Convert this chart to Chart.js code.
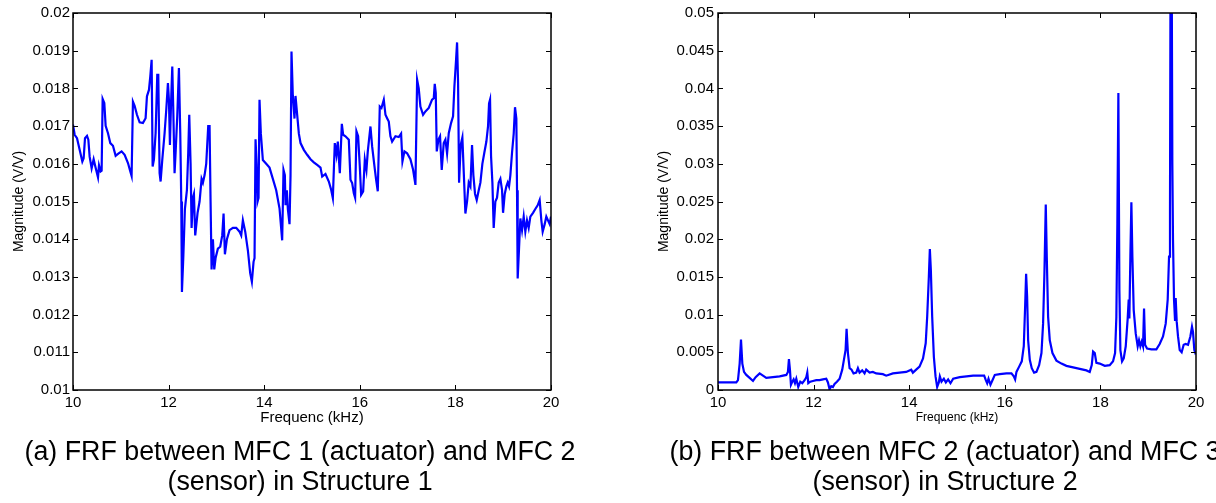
<!DOCTYPE html>
<html>
<head>
<meta charset="utf-8">
<script src="https://cdn.jsdelivr.net/npm/chart.js@4"></script>
<style>
  html, body { margin: 0; padding: 0; background: #fff; }
  body { width: 1216px; height: 503px; position: relative; overflow: hidden; font-family: 'Liberation Sans', Arial, sans-serif; }
  canvas { position: absolute; top: 0; }
  #chart-a { left: 0; }
  #chart-b { left: 608px; }
  .caption { position: absolute; top: 436px; width: 600px; text-align: center; font-size: 26.8px; line-height: 30px; color: #000; white-space: nowrap; }
  #cap-a { left: 0; }
  #cap-b { left: 645px; }
</style>
</head>
<body>
<canvas id="chart-a" width="608" height="440"></canvas>
<canvas id="chart-b" width="608" height="440"></canvas>
<div class="caption" id="cap-a">(a) FRF between MFC 1 (actuator) and MFC 2<br>(sensor) in Structure 1</div>
<div class="caption" id="cap-b">(b) FRF between MFC 2 (actuator) and MFC 3<br>(sensor) in Structure 2</div>
<script>
// Structure 1: MFC 1 -> MFC 2
const freqA = [
    10.000, 10.035, 10.084, 10.139, 10.195, 10.223, 10.251, 10.293, 10.321, 10.348,
    10.390, 10.432, 10.467, 10.523, 10.544, 10.578, 10.599, 10.620, 10.655, 10.683,
    10.732, 10.780, 10.836, 10.892, 10.948, 11.017, 11.080, 11.150, 11.199, 11.226,
    11.254, 11.289, 11.338, 11.394, 11.463, 11.519, 11.547, 11.589, 11.617, 11.645,
    11.666, 11.693, 11.728, 11.763, 11.784, 11.812, 11.833, 11.868, 11.916, 11.951,
    11.986, 12.007, 12.028, 12.049, 12.077, 12.098, 12.125, 12.146, 12.181, 12.216,
    12.244, 12.265, 12.279, 12.307, 12.341, 12.383, 12.411, 12.432, 12.460, 12.481,
    12.509, 12.530, 12.557, 12.606, 12.648, 12.690, 12.718, 12.753, 12.787, 12.829,
    12.857, 12.878, 12.899, 12.927, 12.955, 12.983, 13.031, 13.080, 13.122, 13.150,
    13.178, 13.220, 13.275, 13.345, 13.415, 13.484, 13.519, 13.554, 13.603, 13.659,
    13.707, 13.742, 13.777, 13.798, 13.819, 13.840, 13.861, 13.882, 13.902, 13.930,
    13.972, 14.042, 14.111, 14.181, 14.251, 14.321, 14.376, 14.404, 14.432, 14.446,
    14.474, 14.495, 14.530, 14.551, 14.571, 14.599, 14.634, 14.655, 14.690, 14.725,
    14.760, 14.829, 14.899, 14.969, 15.038, 15.108, 15.178, 15.213, 15.282, 15.352,
    15.401, 15.436, 15.477, 15.512, 15.540, 15.582, 15.624, 15.652, 15.700, 15.770,
    15.805, 15.840, 15.875, 15.902, 15.930, 15.965, 16.000, 16.028, 16.070, 16.105,
    16.139, 16.167, 16.223, 16.258, 16.307, 16.341, 16.376, 16.418, 16.453, 16.502,
    16.537, 16.571, 16.606, 16.641, 16.676, 16.746, 16.815, 16.864, 16.892, 16.934,
    16.990, 17.059, 17.115, 17.164, 17.199, 17.233, 17.268, 17.324, 17.373, 17.443,
    17.512, 17.547, 17.568, 17.589, 17.610, 17.645, 17.679, 17.714, 17.756, 17.791,
    17.826, 17.861, 17.909, 17.951, 17.979, 18.014, 18.035, 18.056, 18.077, 18.111,
    18.146, 18.174, 18.209, 18.244, 18.279, 18.314, 18.348, 18.376, 18.411, 18.446,
    18.488, 18.523, 18.564, 18.606, 18.648, 18.683, 18.704, 18.725, 18.746, 18.774,
    18.801, 18.836, 18.871, 18.906, 18.941, 18.976, 18.997, 19.032, 19.066, 19.094,
    19.122, 19.150, 19.185, 19.220, 19.247, 19.275, 19.289, 19.303, 19.331, 19.359,
    19.394, 19.429, 19.463, 19.498, 19.533, 19.568, 19.624, 19.672, 19.721, 19.763,
    19.798, 19.826, 19.868, 19.902, 19.937, 19.972, 20.000
];
const magA = [
    0.01704, 0.01677, 0.01668, 0.01637, 0.01606, 0.01615, 0.01668, 0.01674, 0.01664, 0.01619,
    0.01588, 0.01612, 0.01593, 0.01564, 0.01596, 0.01580, 0.01582, 0.01772, 0.01761, 0.01701,
    0.01681, 0.01655, 0.01648, 0.01621, 0.01627, 0.01633, 0.01624, 0.01602, 0.01580, 0.01568,
    0.01765, 0.01754, 0.01730, 0.01710, 0.01708, 0.01721, 0.01779, 0.01796, 0.01832, 0.01876,
    0.01593, 0.01611, 0.01681, 0.01836, 0.01836, 0.01575, 0.01553, 0.01611, 0.01681, 0.01743,
    0.01814, 0.01770, 0.01650, 0.01752, 0.01858, 0.01743, 0.01575, 0.01628, 0.01726, 0.01854,
    0.01681, 0.01500, 0.01260, 0.01350, 0.01480, 0.01530, 0.01630, 0.01730, 0.01600, 0.01430,
    0.01510, 0.01520, 0.01410, 0.01470, 0.01500, 0.01560, 0.01550, 0.01570, 0.01600, 0.01700,
    0.01700, 0.01500, 0.01320, 0.01400, 0.01320, 0.01350, 0.01375, 0.01380, 0.01410, 0.01468,
    0.01360, 0.01400, 0.01424, 0.01430, 0.01430, 0.01420, 0.01410, 0.01450, 0.01420, 0.01370,
    0.01310, 0.01287, 0.01340, 0.01350, 0.01665, 0.01600, 0.01500, 0.01510, 0.01770, 0.01680,
    0.01610, 0.01600, 0.01590, 0.01560, 0.01530, 0.01481, 0.01397, 0.01584, 0.01570, 0.01490,
    0.01530, 0.01480, 0.01440, 0.01570, 0.01898, 0.01780, 0.01720, 0.01780, 0.01730, 0.01680,
    0.01655, 0.01637, 0.01624, 0.01612, 0.01604, 0.01597, 0.01590, 0.01566, 0.01573, 0.01553,
    0.01531, 0.01509, 0.01655, 0.01624, 0.01659, 0.01575, 0.01706, 0.01677, 0.01673, 0.01664,
    0.01558, 0.01549, 0.01522, 0.01510, 0.01686, 0.01673, 0.01593, 0.01518, 0.01527, 0.01611,
    0.01584, 0.01633, 0.01699, 0.01646, 0.01593, 0.01558, 0.01527, 0.01752, 0.01748, 0.01770,
    0.01730, 0.01721, 0.01712, 0.01673, 0.01659, 0.01673, 0.01671, 0.01680, 0.01606, 0.01633,
    0.01628, 0.01612, 0.01584, 0.01544, 0.01823, 0.01800, 0.01752, 0.01730, 0.01739, 0.01748,
    0.01770, 0.01774, 0.01812, 0.01788, 0.01633, 0.01664, 0.01673, 0.01584, 0.01655, 0.01664,
    0.01627, 0.01681, 0.01708, 0.01726, 0.01805, 0.01876, 0.01922, 0.01814, 0.01550, 0.01650,
    0.01670, 0.01580, 0.01468, 0.01500, 0.01550, 0.01540, 0.01650, 0.01570, 0.01520, 0.01504,
    0.01530, 0.01550, 0.01600, 0.01630, 0.01659, 0.01700, 0.01760, 0.01770, 0.01620, 0.01550,
    0.01430, 0.01500, 0.01510, 0.01550, 0.01560, 0.01530, 0.01470, 0.01520, 0.01540, 0.01550,
    0.01540, 0.01570, 0.01630, 0.01680, 0.01750, 0.01720, 0.01530, 0.01296, 0.01375, 0.01455,
    0.01424, 0.01460, 0.01420, 0.01450, 0.01430, 0.01460, 0.01470, 0.01480, 0.01490, 0.01504,
    0.01450, 0.01420, 0.01440, 0.01460, 0.01450, 0.01440, 0.01460
];

// Structure 2: MFC 2 -> MFC 3
const freqB = [
    10.000, 10.383, 10.418, 10.453, 10.481, 10.509, 10.544, 10.592, 10.662, 10.732,
    10.787, 10.871, 10.941, 11.010, 11.150, 11.289, 11.429, 11.463, 11.484, 11.505,
    11.526, 11.554, 11.582, 11.610, 11.638, 11.679, 11.721, 11.763, 11.812, 11.847,
    11.868, 11.889, 11.930, 11.986, 12.056, 12.125, 12.195, 12.265, 12.300, 12.334,
    12.369, 12.404, 12.439, 12.488, 12.544, 12.599, 12.634, 12.669, 12.690, 12.718,
    12.753, 12.794, 12.836, 12.892, 12.927, 12.962, 13.017, 13.066, 13.101, 13.171,
    13.240, 13.310, 13.449, 13.519, 13.659, 13.798, 13.937, 14.042, 14.077, 14.146,
    14.216, 14.289, 14.345, 14.376, 14.411, 14.432, 14.453, 14.481, 14.516, 14.551,
    14.585, 14.620, 14.641, 14.676, 14.725, 14.767, 14.815, 14.864, 14.920, 15.059,
    15.199, 15.338, 15.477, 15.568, 15.603, 15.631, 15.659, 15.700, 15.742, 15.791,
    15.895, 16.035, 16.139, 16.188, 16.216, 16.244, 16.300, 16.355, 16.397, 16.425,
    16.446, 16.467, 16.488, 16.523, 16.564, 16.613, 16.662, 16.718, 16.767, 16.801,
    16.829, 16.857, 16.878, 16.906, 16.941, 16.997, 17.080, 17.185, 17.289, 17.429,
    17.568, 17.707, 17.777, 17.819, 17.847, 17.882, 17.916, 17.986, 18.091, 18.195,
    18.265, 18.307, 18.334, 18.355, 18.376, 18.397, 18.418, 18.453, 18.488, 18.530,
    18.571, 18.592, 18.606, 18.627, 18.648, 18.669, 18.697, 18.739, 18.780, 18.808,
    18.836, 18.864, 18.892, 18.913, 18.934, 18.976, 19.066, 19.171, 19.240, 19.310,
    19.366, 19.408, 19.436, 19.456, 19.477, 19.505, 19.519, 19.540, 19.561, 19.575,
    19.596, 19.624, 19.659, 19.700, 19.742, 19.784, 19.833, 19.882, 19.916, 19.937,
    19.965, 19.986, 20.000
];
const magB = [
    0.0010, 0.0010, 0.0013, 0.0035, 0.0067, 0.0035, 0.0024, 0.0020, 0.0016, 0.0012,
    0.0017, 0.0022, 0.0019, 0.0016, 0.0017, 0.0018, 0.0020, 0.0024, 0.0041, 0.0027,
    0.0007, 0.0011, 0.0014, 0.0009, 0.0015, 0.0004, 0.0011, 0.0009, 0.0013, 0.0017,
    0.0023, 0.0009, 0.0011, 0.0012, 0.0013, 0.0013, 0.0014, 0.0015, 0.0010, 0.0001,
    0.0005, 0.0004, 0.0008, 0.0011, 0.0015, 0.0027, 0.0040, 0.0053, 0.0081, 0.0049,
    0.0029, 0.0027, 0.0022, 0.0023, 0.0029, 0.0023, 0.0026, 0.0022, 0.0027, 0.0023,
    0.0024, 0.0022, 0.0021, 0.0019, 0.0022, 0.0023, 0.0024, 0.0027, 0.0023, 0.0027,
    0.0031, 0.0042, 0.0062, 0.0097, 0.0150, 0.0187, 0.0159, 0.0097, 0.0044, 0.0018,
    0.0004, 0.0010, 0.0018, 0.0011, 0.0015, 0.0010, 0.0014, 0.0009, 0.0015, 0.0017,
    0.0018, 0.0019, 0.0019, 0.0019, 0.0013, 0.0009, 0.0015, 0.0007, 0.0013, 0.0020,
    0.0021, 0.0022, 0.0022, 0.0018, 0.0014, 0.0024, 0.0031, 0.0038, 0.0058, 0.0110,
    0.0154, 0.0124, 0.0066, 0.0040, 0.0029, 0.0023, 0.0024, 0.0033, 0.0049, 0.0088,
    0.0155, 0.0246, 0.0177, 0.0097, 0.0066, 0.0049, 0.0039, 0.0035, 0.0032, 0.0030,
    0.0028, 0.0026, 0.0024, 0.0033, 0.0051, 0.0049, 0.0036, 0.0035, 0.0032, 0.0033,
    0.0038, 0.0049, 0.0097, 0.0221, 0.0394, 0.0133, 0.0053, 0.0038, 0.0042, 0.0058,
    0.0095, 0.0120, 0.0095, 0.0177, 0.0249, 0.0177, 0.0106, 0.0075, 0.0058, 0.0066,
    0.0058, 0.0064, 0.0058, 0.0108, 0.0060, 0.0055, 0.0054, 0.0054, 0.0061, 0.0071,
    0.0088, 0.0120, 0.0177, 0.0239, 0.0850, 0.0300, 0.0199, 0.0120, 0.0093, 0.0122,
    0.0091, 0.0071, 0.0053, 0.0050, 0.0060, 0.0061, 0.0060, 0.0071, 0.0084, 0.0077,
    0.0053, 0.0049, 0.0050
];

const xTicks = [10, 12, 14, 16, 18, 20];
const yTicksA = [0.010, 0.011, 0.012, 0.013, 0.014, 0.015, 0.016, 0.017, 0.018, 0.019, 0.020];
const yLabelsA = ['0.01', '0.011', '0.012', '0.013', '0.014', '0.015', '0.016', '0.017', '0.018', '0.019', '0.02'];
const yTicksB = [0, 0.005, 0.010, 0.015, 0.020, 0.025, 0.030, 0.035, 0.040, 0.045, 0.050];
const yLabelsB = ['0', '0.005', '0.01', '0.015', '0.02', '0.025', '0.03', '0.035', '0.04', '0.045', '0.05'];

const FONT = "'Liberation Sans', Arial, sans-serif";

// matlab style box with inward ticks on all four sides
const boxPlugin = {
    id: 'matlabBox',
    afterDatasetsDraw(chart) {
        const { ctx, chartArea: a, scales: { x, y } } = chart;
        ctx.save();
        ctx.strokeStyle = '#000';
        ctx.lineWidth = 1;
        ctx.beginPath();
        x.ticks.forEach(t => {
            const px = Math.round(x.getPixelForValue(t.value)) + 0.5;
            ctx.moveTo(px, a.bottom); ctx.lineTo(px, a.bottom - 5);
            ctx.moveTo(px, a.top); ctx.lineTo(px, a.top + 5);
        });
        y.ticks.forEach(t => {
            const py = Math.round(y.getPixelForValue(t.value)) + 0.5;
            ctx.moveTo(a.left, py); ctx.lineTo(a.left + 5, py);
            ctx.moveTo(a.right, py); ctx.lineTo(a.right - 5, py);
        });
        ctx.stroke();
        ctx.lineWidth = 1.5;
        ctx.strokeRect(a.left, a.top, a.right - a.left, a.bottom - a.top);
        ctx.restore();
    }
};

const renderFrf = (canvasId, freq, mag, yTicks, yLabels, opts) => {
    const ctx = document.getElementById(canvasId).getContext('2d');
    new Chart(ctx, {
        type: 'line',
        data: {
            datasets: [{
                data: freq.map((f, i) => ({ x: f, y: mag[i] })),
                borderColor: '#0000ff',
                borderWidth: 2.2,
                pointRadius: 0,
                tension: 0,
                fill: false
            }]
        },
        options: {
            responsive: false,
            animation: false,
            events: [],
            layout: { padding: { top: 13, right: opts.padRight, left: 0, bottom: 0 } },
            plugins: { legend: { display: false }, tooltip: { enabled: false } },
            scales: {
                x: {
                    type: 'linear',
                    min: 10,
                    max: 20,
                    afterBuildTicks: s => { s.ticks = xTicks.map(v => ({ value: v })); },
                    afterFit: s => { s.height = 50; },
                    grid: { display: false, drawTicks: false },
                    border: { display: false },
                    ticks: {
                        color: '#000', padding: 4, maxRotation: 0, autoSkip: false,
                        font: { family: FONT, size: 15 },
                        callback: v => String(v)
                    },
                    title: {
                        display: true, text: 'Frequenc (kHz)', color: '#000',
                        font: { family: FONT, size: opts.xTitleSize },
                        padding: { top: 0, bottom: opts.xTitlePad }
                    }
                },
                y: {
                    min: yTicks[0],
                    max: yTicks[yTicks.length - 1],
                    afterBuildTicks: s => { s.ticks = yTicks.map(v => ({ value: v })); },
                    afterFit: s => { s.width = opts.yWidth; },
                    grid: { display: false, drawTicks: false },
                    border: { display: false },
                    ticks: {
                        color: '#000', padding: opts.yTickPad, autoSkip: false,
                        font: { family: FONT, size: 15 },
                        callback: (v, i) => yLabels[i]
                    },
                    title: {
                        display: true, text: 'Magnitude (V/V)', color: '#000',
                        font: { family: FONT, size: 14 },
                        padding: { top: opts.yTitlePad, bottom: 0 }
                    }
                }
            }
        },
        plugins: [boxPlugin]
    });
}

renderFrf('chart-a', freqA, magA, yTicksA, yLabelsA,
    { padRight: 57, yWidth: 73, yTickPad: 3, yTitlePad: 11, xTitleSize: 15, xTitlePad: 13 });
renderFrf('chart-b', freqB, magB, yTicksB, yLabelsB,
    { padRight: 20, yWidth: 110, yTickPad: 4, yTitlePad: 48, xTitleSize: 12, xTitlePad: 15 });
</script>
</body>
</html>
